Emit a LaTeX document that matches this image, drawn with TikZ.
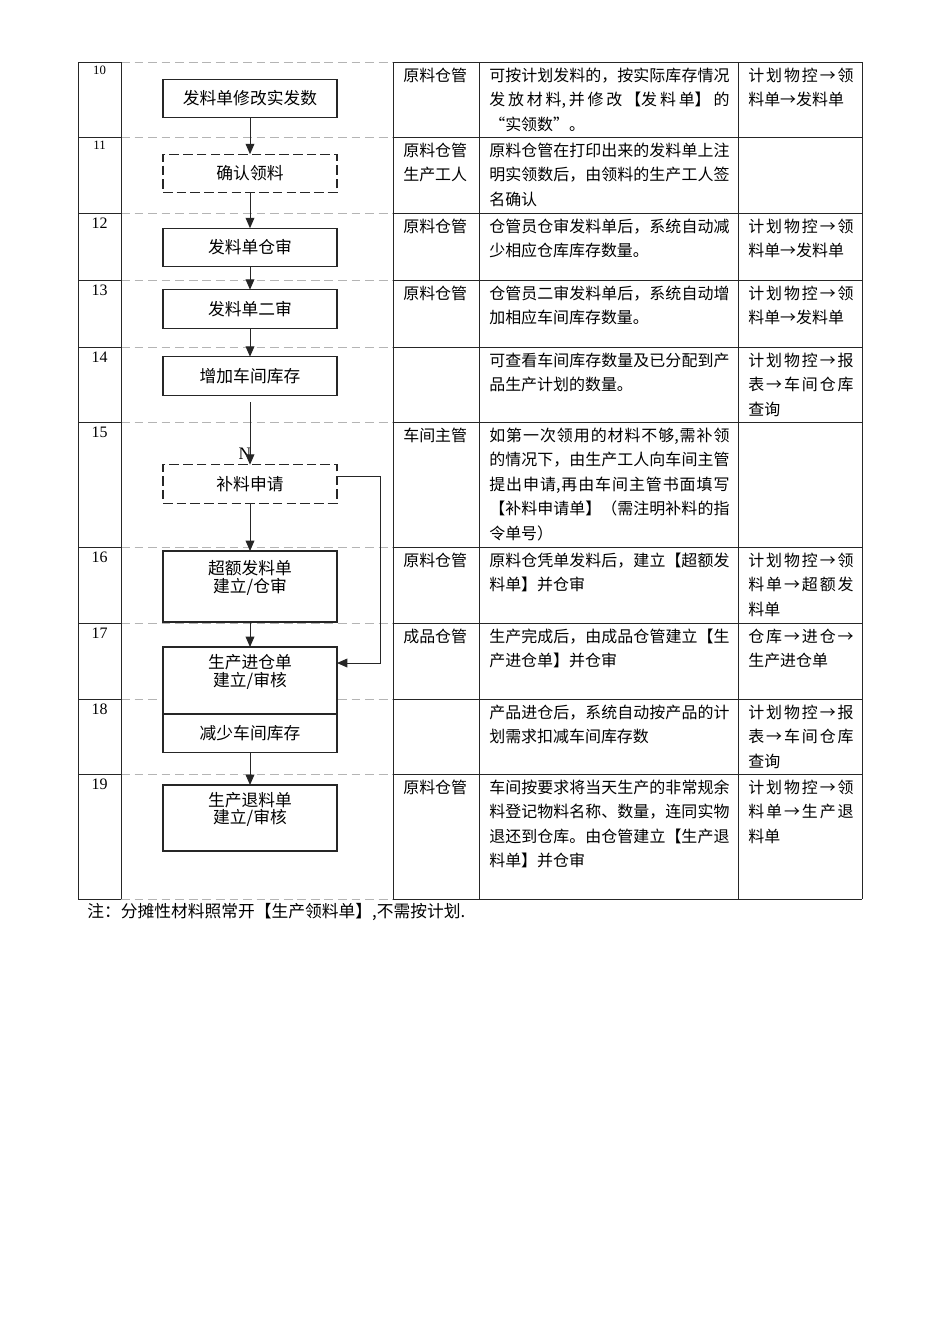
\documentclass[tikz,border=0pt]{standalone}
\usepackage{fontspec}
\setmainfont{Liberation Serif}
\newfontfamily\cjk{Noto Sans CJK SC}
\usepackage{xcolor}
\usetikzlibrary{arrows.meta, positioning}
\definecolor{gridgray}{HTML}{b4b4b4}
\definecolor{inkline}{HTML}{262626}
\XeTeXlinebreaklocale "zh"
\XeTeXlinebreakskip=0pt plus 1.5pt

\begin{document}
\begin{tikzpicture}[x=0.6266pt, y=-0.6266pt,
    tabline/.style={draw=inkline, line width=0.6pt},
    rowdash/.style={draw=gridgray, line width=0.6pt, dash pattern=on 5.5pt off 3pt},
    flowbox/.style={rectangle, draw=inkline, line width=0.7pt, fill=white, outer sep=0pt, minimum width=109pt, minimum height=24.2pt, inner sep=0pt, align=center, font=\cjk\fontsize{10.5pt}{11pt}\selectfont},
    tallbox/.style={flowbox, minimum height=42pt},
    dashbox/.style={flowbox, dash pattern=on 6pt off 2.6pt},
    arr/.style={draw=inkline, line width=0.6pt, -{Triangle[length=6.5pt,width=5.5pt]}},
    celltext/.style={anchor=base west, inner sep=0pt, font=\cjk\fontsize{10pt}{15.4pt}\selectfont},
    role/.style={celltext, text width=70pt, align=left},
    desc/.style={celltext, text width=150.5pt, align=justify},
    menu/.style={celltext, text width=66pt, align=justify}]
    \path[use as bounding box, fill=white] (0,0) rectangle (950,1344);

    % table grid
    \foreach \y in {62,137,213,280,347,422,547,623,699,774,899} {
        \draw[tabline] (78,\y) -- (121,\y);
        \draw[rowdash] (121,\y) -- (393,\y);
        \draw[tabline] (393,\y) -- (862,\y);
    }
    \foreach \x in {78,121,393,479,738,862}
        \draw[tabline] (\x,62) -- (\x,899);

    % step numbers
    \foreach \y/\n in {62/10,137/11}
        \node[anchor=base, inner sep=0pt, font=\fontsize{8pt}{8pt}\selectfont] (num\n) at (99.5,\y+12) {\n};
    \foreach \y/\n in {213/12,280/13,347/14,422/15,547/16,623/17,699/18,774/19}
        \node[anchor=base, inner sep=0pt, font=\fontsize{10pt}{10pt}\selectfont] (num\n) at (99.5,\y+15) {\n};

    % flow
    \node[flowbox] (b1) at (250,98.5) {发料单修改实发数};
    \node[dashbox] (b2) at (250,173.5) {确认领料};
    \node[flowbox] (b3) at (250,247.5) {发料单仓审};
    \node[flowbox] (b4) at (250,309) {发料单二审};
    \node[flowbox] (b5) at (250,376) {增加车间库存};
    \node[dashbox] (b6) at (250,484) {补料申请};
    \node[tallbox, minimum height=44.5pt] (b7) at (250,586.5) {超额发料单\\建立/仓审\\[1.5pt]\mbox{}};
    \node[tallbox] (b8) at (250,680.5) {生产进仓单\\建立/审核\\[1.5pt]\mbox{}};
    \node[flowbox, below=0pt of b8] (b9) {减少车间库存};
    \node[tallbox, minimum height=41.4pt] (b10) at (250,818) {生产退料单\\建立/审核\\[1.5pt]\mbox{}};

    \draw[arr] (b1) -- (b2);
    \draw[arr] (b2) -- (b3);
    \draw[arr] (b3) -- (b4);
    \draw[arr] (b4) -- (b5);
    \node[inner sep=0pt, font=\fontsize{11pt}{11pt}\selectfont] (nmark) at (245,454) {N};
    \coordinate (gapTop) at (250,402);
    \draw[arr] (gapTop) -- (b6);
    \draw[arr] (b6) -- (b7);
    \draw[arr] (b7) -- (b8);
    \draw[arr] (b9) -- (b10);
    \coordinate (loopTop) at (380,476);
    \coordinate (loopBot) at (380,663);
    \draw[arr] (b6.east |- loopTop) -- (loopTop) -- (loopBot) -- (b8.east |- loopBot);

    % roles
    \node[role] (role10) at (403,81) {原料仓管};
    \node[role] (role11) at (403,156) {原料仓管\\生产工人};
    \node[role] (role12) at (403,232) {原料仓管};
    \node[role] (role13) at (403,299) {原料仓管};
    \node[role] (role15) at (403,441) {车间主管};
    \node[role] (role16) at (403,566) {原料仓管};
    \node[role] (role17) at (403,642) {成品仓管};
    \node[role] (role19) at (403,793) {原料仓管};

    % descriptions
    \node[desc] (desc10) at (489,81) {可按计划发料的，按实际库存情况\linebreak 发放材料,并修改【发料单】的\linebreak “实领数”。};
    \node[desc] (desc11) at (489,156) {原料仓管在打印出来的发料单上注\linebreak 明实领数后，由领料的生产工人签\linebreak 名确认};
    \node[desc] (desc12) at (489,232) {仓管员仓审发料单后，系统自动减\linebreak 少相应仓库库存数量。};
    \node[desc] (desc13) at (489,299) {仓管员二审发料单后，系统自动增\linebreak 加相应车间库存数量。};
    \node[desc] (desc14) at (489,366) {可查看车间库存数量及已分配到产\linebreak 品生产计划的数量。};
    \node[desc] (desc15) at (489,441) {如第一次领用的材料不够,需补领\linebreak 的情况下，由生产工人向车间主管\linebreak 提出申请,再由车间主管书面填写\linebreak 【补料申请单】（需注明补料的指\linebreak 令单号）};
    \node[desc] (desc16) at (489,566) {原料仓凭单发料后，建立【超额发\linebreak 料单】并仓审};
    \node[desc] (desc17) at (489,642) {生产完成后，由成品仓管建立【生\linebreak 产进仓单】并仓审};
    \node[desc] (desc18) at (489,718) {产品进仓后，系统自动按产品的计\linebreak 划需求扣减车间库存数};
    \node[desc] (desc19) at (489,793) {车间按要求将当天生产的非常规余\linebreak 料登记物料名称、数量，连同实物\linebreak 退还到仓库。由仓管建立【生产退\linebreak 料单】并仓审};

    % menu paths
    \node[menu] (menu10) at (748,81) {计划物控→领\linebreak 料单→发料单};
    \node[menu] (menu12) at (748,232) {计划物控→领\linebreak 料单→发料单};
    \node[menu] (menu13) at (748,299) {计划物控→领\linebreak 料单→发料单};
    \node[menu] (menu14) at (748,366) {计划物控→报\linebreak 表→车间仓库\linebreak 查询};
    \node[menu] (menu16) at (748,566) {计划物控→领\linebreak 料单→超额发\linebreak 料单};
    \node[menu] (menu17) at (748,642) {仓库→进仓→\linebreak 生产进仓单};
    \node[menu] (menu18) at (748,718) {计划物控→报\linebreak 表→车间仓库\linebreak 查询};
    \node[menu] (menu19) at (748,793) {计划物控→领\linebreak 料单→生产退\linebreak 料单};

    \node[anchor=base west, inner sep=0pt, font=\cjk\fontsize{10.5pt}{12pt}\selectfont] (note) at (87,917) {注：分摊性材料照常开【生产领料单】,不需按计划.};
\end{tikzpicture}
\end{document}
